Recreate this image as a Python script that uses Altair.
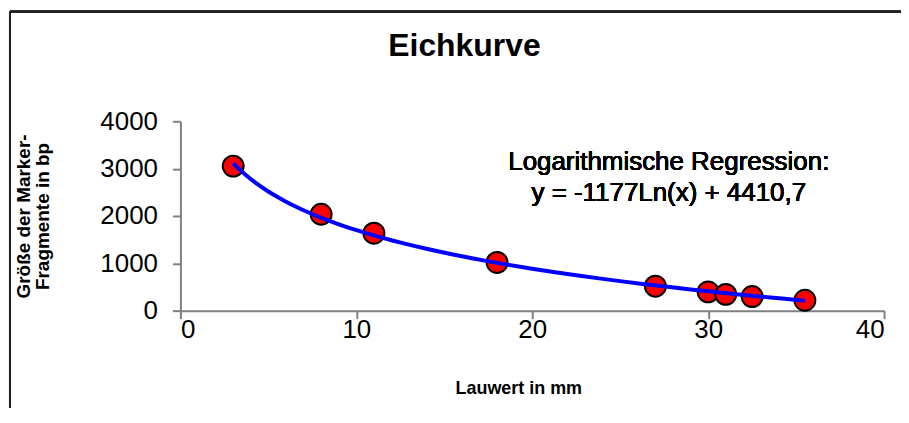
import altair as alt
import pandas as pd

# Lauwert (mm) and fragment size (bp) of the marker
lauwert_mm = [3, 8, 11, 18, 27, 30, 31, 32.5, 35.5]
groesse_bp = [3054, 2036, 1636, 1018, 517, 396, 344, 298, 220]
x_ticks = [0, 10, 20, 30, 40]
y_ticks = [0, 1000, 2000, 3000, 4000]

df = pd.DataFrame({"Lauwert": lauwert_mm, "Groesse": groesse_bp})

FONT = "Liberation Sans"
AXIS_GREY = "#808080"

x_enc = alt.X(
    "Lauwert:Q",
    scale=alt.Scale(domain=[0, 40], nice=False, zero=False),
    axis=alt.Axis(
        values=x_ticks, format="d",
        title="Lauwert in mm",
        titleX=339, titleY=78, titleBaseline="middle", titleAlign="center",
        titleFont=FONT, titleFontSize=18, titleFontWeight="bold", titleColor="black",
        labelFont=FONT, labelFontSize=26, labelColor="black", labelPadding=-2,
        tickSize=8, tickColor=AXIS_GREY, tickWidth=2,
        domainColor=AXIS_GREY, domainWidth=2,
        grid=False,
    ),
)
y_enc = alt.Y(
    "Groesse:Q",
    scale=alt.Scale(domain=[0, 4000], nice=False),
    axis=alt.Axis(
        values=y_ticks, format="d",
        title=["Größe der Marker-", "Fragmente in bp"],
        titleX=-157, titleY=95, titleBaseline="middle", titleAlign="center",
        titleAngle=270, titleLineHeight=19,
        titleFont=FONT, titleFontSize=19, titleFontWeight="bold", titleColor="black",
        labelFont=FONT, labelFontSize=26, labelColor="black", labelPadding=15,
        tickSize=8, tickColor=AXIS_GREY, tickWidth=2,
        domainColor=AXIS_GREY, domainWidth=2,
        grid=False,
    ),
)

base = alt.Chart(df)

points = base.mark_point(
    shape="circle", filled=True, fill="#FF0000", stroke="black",
    strokeWidth=2, size=440, opacity=1,
).encode(x=x_enc, y=y_enc)

curve = base.transform_regression(
    "Lauwert", "Groesse", method="log", extent=[3, 35.5]
).mark_line(color="#0000FF", strokeWidth=4).encode(x="Lauwert:Q", y="Groesse:Q")

annotation = alt.Chart(df).mark_text(
    font=FONT, fontSize=26, fontWeight=400, color="black",
    align="center", baseline="middle", lineBreak="\n", lineHeight=31,
).encode(
    x=alt.value(490), y=alt.value(41),
    text=alt.value("Logarithmische Regression:\ny = -1177Ln(x) + 4410,7"),
)

border_top = alt.Chart(df).mark_rule(color="#222222", strokeWidth=2).encode(
    x=alt.value(-171), x2=alt.value(760), y=alt.value(-110)
)
border_left = alt.Chart(df).mark_rule(color="#222222", strokeWidth=2).encode(
    x=alt.value(-171), y=alt.value(-110), y2=alt.value(400)
)

chart = alt.layer(points, curve, annotation, border_top, border_left).properties(
    width=706,
    height=190,
    padding={"left": 173, "top": 113, "right": 17, "bottom": 97},
    autosize=alt.AutoSizeParams(type="none"),
    title=alt.TitleParams(
        "Eichkurve", font=FONT, fontSize=32, fontWeight="bold", color="black",
        anchor="middle", frame="group", dx=-68, offset=40, dy=92,
    ),
).configure_view(stroke=None)

chart.save("out.html", embed_options={"renderer": "svg", "actions": False})
